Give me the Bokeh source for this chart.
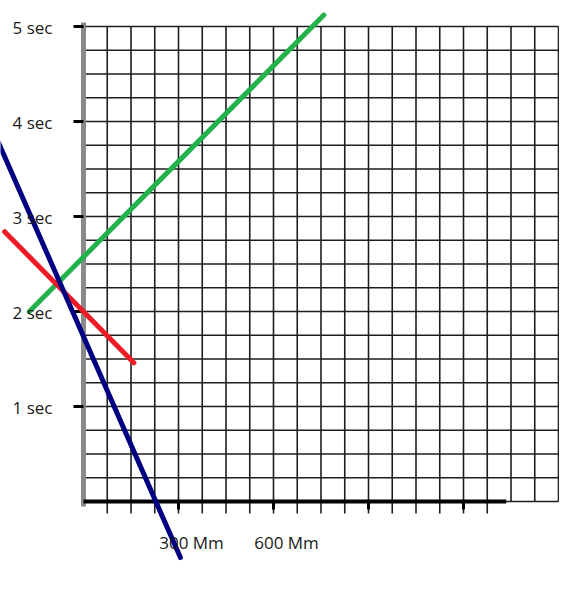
import numpy as np
from bokeh.plotting import figure
from bokeh.models import Range1d
from bokeh.core.properties import value
from bokeh.embed import file_html
from bokeh.resources import INLINE

# ---- data (x in light-seconds, t in seconds) ----
y_tick_values = [1, 2, 3, 4, 5]
y_tick_labels = ["1 sec", "2 sec", "3 sec", "4 sec", "5 sec"]
x_tick_values = [1, 2, 3, 4]
x_label_values = [1, 2]
x_label_texts = ["300 Mm", "600 Mm"]

green_x = [-0.57, 2.53]
green_t = [2.00, 5.12]
red_x = [-0.83, 0.53]
red_t = [2.84, 1.46]
blue_x = [-0.90, 1.02]
blue_t = [3.79, -0.59]

grid_step = 0.25
grid_max = 5.0
axis_end = 4.45
n_ext = 17

# ---- figure: 95 px per unit, origin at picture (83, 501) ----
S = 95.0
W, H = 559, 584
ox, oy = 83, 501
p = figure(width=W, height=H,
           x_range=Range1d(-ox / S, (W - ox) / S),
           y_range=Range1d((oy - H) / S, oy / S),
           x_axis_type=None, y_axis_type=None,
           toolbar_location=None, output_backend="svg", min_border=0)
p.grid.visible = False
p.outline_line_color = None
p.background_fill_color = "white"

cols = np.arange(1, int(grid_max / grid_step) + 1) * grid_step
rows = np.arange(0, int(grid_max / grid_step) + 1) * grid_step
gc = "#1e1e1e"
# vertical grid lines
p.segment(x0=cols, y0=0, x1=cols, y1=grid_max, line_color=gc, line_width=1.6)
# extensions below the axis
ext = cols[:n_ext]
p.segment(x0=ext, y0=0, x1=ext, y1=-12 / S, line_color=gc, line_width=1.6)
# horizontal grid lines
p.segment(x0=0, y0=rows, x1=grid_max, y1=rows, line_color=gc, line_width=1.6)

# left (time) axis
p.segment(x0=[0], y0=[-5 / S], x1=[0], y1=[grid_max + 4 / S],
          line_color="#8a8a8a", line_width=5)
p.segment(x0=-10 / S, y0=y_tick_values, x1=0, y1=y_tick_values,
          line_color="black", line_width=3)
# bottom (space) axis
p.segment(x0=[0], y0=[0], x1=[axis_end], y1=[0], line_color="black", line_width=4)
p.segment(x0=x_tick_values, y0=0, x1=x_tick_values, y1=-8 / S,
          line_color="black", line_width=3)

# world lines
p.line(green_x, green_t, line_color="#22b14c", line_width=5, line_cap="round")
p.line(red_x, red_t, line_color="#ed1c24", line_width=5, line_cap="round")
p.line(blue_x, blue_t, line_color="#000080", line_width=5, line_cap="round")

# labels
p.text(x=[-71 / S] * len(y_tick_values), y=y_tick_values, text=y_tick_labels,
       text_font=value("Open Sans"), text_font_size="17px", text_color="#1a1a1a",
       text_align="left", text_baseline="middle", y_offset=1)
p.text(x=x_label_values, y=[-43 / S] * len(x_label_values), text=x_label_texts,
       text_font=value("Open Sans"), text_font_size="17px", text_color="#1a1a1a",
       text_align="center", text_baseline="middle", x_offset=13, y_offset=-2)

open("out.html", "w").write(file_html(p, INLINE))
